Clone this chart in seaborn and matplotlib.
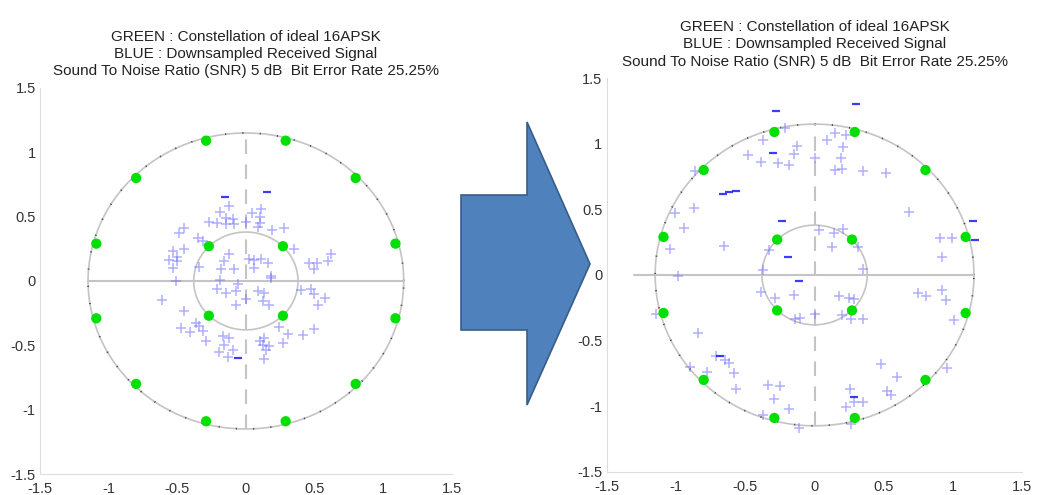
import numpy as np
import pandas as pd
import matplotlib
matplotlib.use("Agg")
import matplotlib.pyplot as plt
from matplotlib.patches import Polygon
import seaborn as sns

# ---------------- data ----------------
ideal_i = [0.27, -0.27, -0.27, 0.27, 1.09, 0.80, 0.29, -0.29, -0.80, -1.09, -1.09, -0.80, -0.29, 0.29, 0.80, 1.09]
ideal_q = [0.27, 0.27, -0.27, -0.27, 0.29, 0.80, 1.09, 1.09, 0.80, 0.29, -0.29, -0.80, -1.09, -1.09, -0.80, -0.29]

left_i = [-0.12, -0.19, 0.045, 0.11, 0.105, -0.27, -0.21, -0.145, -0.096, -0.145, -0.084, 0.0, 0.10, 0.086,
          0.19, 0.276, -0.45, -0.485, -0.35, -0.315, -0.53, -0.45, -0.50, -0.56, -0.50, -0.53, -0.12, -0.157,
          -0.18, -0.084, -0.34, 0.026, 0.062, 0.11, 0.16, 0.062, 0.18, 0.354, 0.46, 0.52, 0.62, 0.60, 0.50,
          -0.51, -0.19, 0.18, -0.61, -0.21, -0.145, -0.07, -0.06, 0.0, -0.07, 0.086, 0.135, 0.123, 0.17, 0.40,
          0.476, 0.50, 0.573, 0.524, -0.45, -0.36, -0.34, -0.47, -0.41, -0.31, -0.29, -0.17, -0.12, -0.157,
          -0.193, -0.096, 0.245, 0.305, 0.415, 0.50, 0.27, 0.135, 0.123, 0.17, 0.147, 0.135, 0.10, -0.13]
left_q = [0.58, 0.535, 0.53, 0.56, 0.50, 0.46, 0.45, 0.49, 0.48, 0.44, 0.44, 0.46, 0.45, 0.42,
          0.395, 0.41, 0.41, 0.37, 0.33, 0.31, 0.23, 0.25, 0.19, 0.16, 0.155, 0.10, 0.21, 0.155,
          0.095, 0.095, 0.11, 0.17, 0.16, 0.17, 0.14, 0.10, 0.037, 0.25, 0.14, 0.14, 0.21, 0.155, 0.09,
          0.0, 0.01, 0.02, -0.15, -0.066, -0.09, -0.08, -0.027, -0.144, -0.19, -0.08, -0.09, -0.157, -0.183, -0.074,
          -0.066, -0.105, -0.136, -0.19, -0.235, -0.325, -0.35, -0.364, -0.395, -0.39, -0.463, -0.43, -0.44, -0.50,
          -0.55, -0.54, -0.36, -0.41, -0.42, -0.377, -0.48, -0.44, -0.494, -0.507, -0.533, -0.61, -0.47, -0.59]
left_dark_i = [-0.15, 0.155, -0.06]
left_dark_q = [0.65, 0.69, -0.60]

right_i = [-0.216, -0.37, -0.126, -0.15, -0.48, -0.39, -0.267, -0.187, 0.0, -0.865, -0.873, -1.01, -0.945,
           -1.04, -0.655, -0.33, -0.373, 0.03, 0.145, 0.225, 0.092, 0.206, 0.19, 0.15, 0.20, 0.347, 0.516,
           0.68, 0.14, 0.206, 0.129, 0.31, 0.904, 0.99, 0.916, 0.347, -0.987, -0.385, -0.284, -0.15, -1.144,
           -0.138, -0.102, 0.0, -0.84, -0.71, -0.647, -0.616, -0.90, -0.773, -0.58, -0.567, -0.337, -0.247,
           -0.296, -0.182, -0.369, -0.114, 0.177, 0.25, 0.286, 0.20, 0.262, 0.347, 0.747, 0.807, 0.916, 0.945,
           1.009, 0.48, 0.596, 0.524, 0.553, 0.953, 0.257, 0.347, 0.286, 0.225, 0.262]
right_q = [1.12, 1.03, 0.98, 0.92, 0.915, 0.864, 0.856, 0.84, 0.89, 0.79, 0.51, 0.475, 0.355,
           0.20, 0.22, 0.19, 0.037, 0.34, 1.085, 1.067, 1.03, 0.973, 0.89, 0.80, 0.81, 0.79, 0.775,
           0.48, 0.32, 0.347, 0.21, 0.215, 0.28, 0.28, 0.14, 0.042, -0.006, -0.128, -0.174, -0.154, -0.294,
           -0.332, -0.327, -0.294, -0.44, -0.617, -0.65, -0.67, -0.70, -0.74, -0.747, -0.866, -0.836, -0.85,
           -0.943, -1.02, -1.07, -1.166, -0.159, -0.174, -0.18, -0.307, -0.337, -0.337, -0.134, -0.159, -0.116, -0.19,
           -0.345, -0.676, -0.777, -0.887, -0.912, -0.706, -0.866, -0.968, -0.968, -1.006, -1.134]
right_dark_i = [-0.276, -0.235, -0.19, -0.66, -0.62, -0.57, 0.30, 1.14, 1.16, -0.114, -0.68, -0.30, 0.286]
right_dark_q = [1.25, 0.41, 0.14, 0.62, 0.63, 0.64, 1.30, 0.41, 0.27, -0.044, -0.62, 0.93, -0.93]

tick_vals = [-1.5, -1.0, -0.5, 0.0, 0.5, 1.0, 1.5]
tick_labels = ["-1.5", "-1", "-0.5", "0", "0.5", "1", "1.5"]

title_text = ("GREEN : Constellation of ideal 16APSK\n"
              "BLUE : Downsampled Received Signal\n"
              "Sound To Noise Ratio (SNR) 5 dB  Bit Error Rate 25.25%")

# ---------------- style ----------------
sns.set_style("white")
plt.rcParams["font.family"] = ["Liberation Sans", "DejaVu Sans"]

fig = plt.figure(figsize=(10.37, 4.95), dpi=100)
ax1 = fig.add_axes([0.0386, 0.0424, 0.397, 0.780])
ax2 = fig.add_axes([0.585, 0.047, 0.401, 0.795])

GRAY = "#c4c4c4"


def draw_panel(ax, bi, bq, di, dq, hline_left):
    # reference geometry (rings and axes cross)
    th = np.linspace(0, 2 * np.pi, 400)
    ax.plot(1.15 * np.cos(th), 1.15 * np.sin(th), color=GRAY, lw=1.2, zorder=1)
    ax.plot(1.15 * np.cos(th), 1.15 * np.sin(th), color="#444444", lw=1.3,
            dashes=(0.6, 9), zorder=1)
    ax.plot(0.38 * np.cos(th), 0.38 * np.sin(th), color=GRAY, lw=1.2, zorder=1)
    ax.plot([hline_left, 1.15], [0, 0], color=GRAY, lw=1.5, zorder=1)
    ax.plot([0, 0], [-1.15, 1.15], color=GRAY, lw=1.5, dashes=(7, 5), zorder=1)

    df_rx = pd.DataFrame({"I": bi, "Q": bq})
    sns.scatterplot(data=df_rx, x="I", y="Q", ax=ax, marker="+", s=55,
                    color="#6f6fff", alpha=0.55, linewidth=1.1, zorder=3)
    df_dk = pd.DataFrame({"I": di, "Q": dq})
    sns.scatterplot(data=df_dk, x="I", y="Q", ax=ax, marker="_", s=35,
                    color="#1a1aff", alpha=0.85, linewidth=1.6, zorder=4)
    df_id = pd.DataFrame({"I": ideal_i, "Q": ideal_q})
    sns.scatterplot(data=df_id, x="I", y="Q", ax=ax, marker="o", s=55,
                    color="#00e000", edgecolor="none", zorder=5)

    ax.set_xlim(-1.5, 1.5)
    ax.set_ylim(-1.5, 1.5)
    ax.set_xticks(tick_vals)
    ax.set_xticklabels(tick_labels)
    ax.set_yticks(tick_vals)
    ax.set_yticklabels(tick_labels)
    ax.set_xlabel("")
    ax.set_ylabel("")
    ax.tick_params(direction="in", length=3, color="#bbbbbb", labelsize=10.5,
                   labelcolor="#333333", pad=3)
    ax.tick_params(axis="x", pad=6)
    for s in ["top", "right"]:
        ax.spines[s].set_visible(False)
    for s in ["left", "bottom"]:
        ax.spines[s].set_color("#dddddd")
        ax.spines[s].set_linewidth(0.8)
    ax.set_title(title_text, fontsize=11, linespacing=1.3, color="#222222", pad=9)


draw_panel(ax1, left_i, left_q, left_dark_i, left_dark_q, -1.15)
draw_panel(ax2, right_i, right_q, right_dark_i, right_dark_q, -1.30)

# big block arrow between the panels (figure decoration)
W, H = 1037.0, 495.0
arrow_px = [(461, 195), (527, 195), (527, 122), (590, 264), (527, 405), (527, 330), (461, 330)]
arrow = Polygon([(x / W, 1 - y / H) for x, y in arrow_px], closed=True,
                transform=fig.transFigure, facecolor="#4F81BD", edgecolor="#385D8A",
                linewidth=1.2, zorder=10)
fig.patches.append(arrow)

fig.savefig("out.png", dpi=100)
